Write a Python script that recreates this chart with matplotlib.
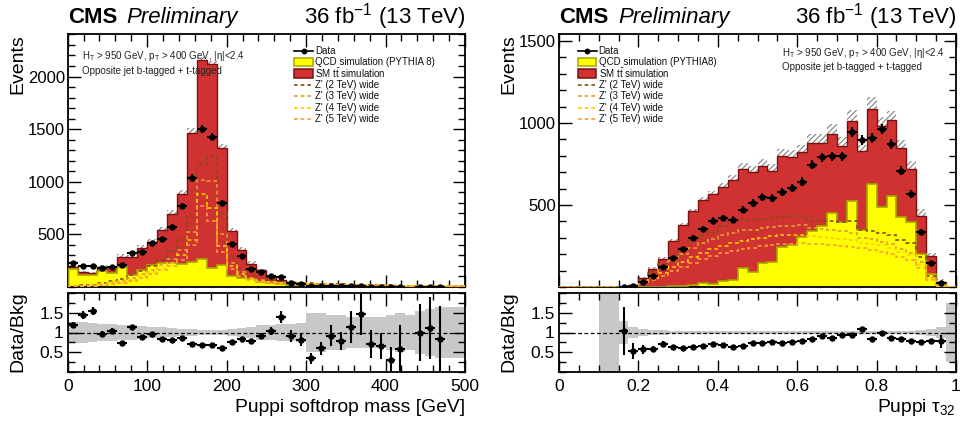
import numpy as np
import matplotlib
matplotlib.use('Agg')
import matplotlib.pyplot as plt
from matplotlib.lines import Line2D
from matplotlib.patches import Rectangle
from matplotlib.ticker import MultipleLocator, FixedLocator

plt.rcParams['font.family'] = ['Liberation Sans', 'DejaVu Sans']
plt.rcParams['mathtext.fontset'] = 'custom'
plt.rcParams['mathtext.rm'] = 'Liberation Sans'
plt.rcParams['mathtext.it'] = 'Liberation Sans:italic'
plt.rcParams['mathtext.bf'] = 'Liberation Sans:bold'
plt.rcParams['hatch.linewidth'] = 0.8

# ---- softdrop mass, 40 bins of 12.5 GeV ----
mass_edges = np.linspace(0, 500, 41)
mass_qcd = [174, 118, 115, 155, 135, 190, 118, 166, 206, 232,
            224, 218, 236, 270, 183, 208, 103, 88, 72, 52,
            34, 25, 20, 18, 12, 14, 9, 10, 5, 4,
            4, 4.5, 2.4, 1.2, 1.5, 1.5, 1.3, 0.9, 1.1, 1.1]
mass_ttbar = [19, 22, 17, 35, 52, 98, 167, 208, 224, 313,
              473, 667, 1229, 1886, 1935, 1117, 430, 261, 150, 106,
              63, 41, 24, 19, 5, 6, 4, 4, 2, 1.5,
              1.6, 1.5, 0.8, 0.5, 0.5, 0.5, 0.5, 0.3, 0.4, 0.4]
mass_data = [228, 203, 203, 184, 193, 209, 323, 335, 418, 458,
             573, 772, 1040, 1500, 1430, 796, 412, 290, 174, 143,
             101, 92, 40, 30, 6, 12, 12, 11, 8, 8,
             4, 4, 1, 1, 0, 2, 2, 1, 0, 0]
mass_zp2 = [12, 15, 20, 40, 60, 80, 110, 150, 200, 260,
            340, 450, 670, 1165, 1245, 705, 290, 170, 110, 80,
            60, 50, 45, 40, 35, 30, 28, 25, 22, 20,
            18, 16, 15, 14, 13, 12, 11, 10, 10, 9]
mass_zp3 = [10, 12, 18, 30, 45, 60, 85, 120, 160, 210,
            270, 350, 520, 1020, 1005, 500, 230, 140, 90, 65,
            50, 42, 38, 34, 30, 27, 25, 22, 20, 18,
            16, 15, 14, 13, 12, 11, 10, 10, 9, 9]
mass_zp4 = [8, 10, 14, 25, 38, 50, 70, 100, 140, 180,
            230, 300, 450, 880, 755, 390, 200, 120, 80, 58,
            45, 38, 34, 30, 27, 25, 22, 20, 18, 16,
            15, 14, 13, 12, 11, 10, 10, 9, 9, 8]
mass_zp5 = [6, 8, 12, 20, 30, 42, 60, 85, 120, 160,
            200, 260, 400, 770, 630, 330, 170, 105, 70, 52,
            40, 34, 30, 27, 25, 22, 20, 18, 16, 15,
            14, 13, 12, 11, 10, 10, 9, 9, 8, 8]
# MC uncertainty (events) shown hatched on the stack
mass_mc_unc = [15, 15, 15, 15, 15, 22, 22, 25, 28, 25,
               35, 40, 47, 30, 30, 38, 30, 30, 25, 15,
               12, 10, 8, 8, 6, 6, 5, 5, 4, 4,
               4, 4, 3, 3, 3, 3, 3, 3, 3, 3]
# relative background uncertainty for the ratio band
mass_band = [0.27, 0.27, 0.25, 0.22, 0.22, 0.2, 0.18, 0.17, 0.15, 0.13,
             0.12, 0.1, 0.08, 0.07, 0.07, 0.07, 0.08, 0.12, 0.15, 0.18,
             0.2, 0.22, 0.22, 0.25, 0.5, 0.5, 0.45, 0.45, 0.4, 0.38,
             0.4, 0.38, 0.45, 0.5, 0.45, 0.55, 0.6, 0.65, 0.65, 0.65]

# ---- tau32, 40 bins of 0.025 ----
tau_edges = np.linspace(0, 1, 41)
tau_qcd = [0, 0, 0, 0, 0, 0, 0, 0, 1, 2,
           3, 4, 5, 10, 27, 20, 37, 40, 118, 92,
           148, 150, 241, 257, 302, 343, 373, 451, 394, 522,
           347, 629, 486, 557, 424, 394, 204, 82, 16, 0]
tau_ttbar = [0, 0, 0, 0, 0.3, 0.6, 2.9, 13, 53, 110,
             170, 274, 373, 451, 504, 547, 575, 613, 602, 608,
             593, 556, 555, 533, 520, 535, 505, 484, 463, 490,
             482, 459, 494, 459, 425, 326, 231, 108, 15, 1]
tau_data = [0, 0, 0, 0, 0, 0, 3, 7, 31, 65,
            124, 175, 230, 298, 353, 404, 420, 410, 471, 512,
            547, 543, 577, 604, 643, 745, 792, 798, 796, 945,
            898, 910, 965, 873, 710, 567, 333, 149, 24, 0]
tau_zp2 = [0, 0, 0, 0, 0, 0, 3, 15, 45, 90,
           140, 190, 240, 290, 320, 330, 370, 400, 410, 410,
           415, 420, 425, 430, 435, 405, 405, 400, 395, 400,
           345, 340, 330, 320, 285, 270, 180, 65, 8, 0]
tau_zp3 = [0, 0, 0, 0, 0, 0, 2, 10, 35, 70,
           110, 160, 200, 240, 270, 290, 320, 330, 345, 350,
           360, 365, 370, 375, 380, 360, 355, 345, 340, 330,
           300, 290, 275, 260, 230, 210, 150, 55, 7, 0]
tau_zp4 = [0, 0, 0, 0, 0, 0, 2, 8, 25, 55,
           85, 120, 150, 180, 210, 230, 250, 270, 280, 295,
           300, 310, 315, 320, 320, 310, 305, 300, 290, 285,
           270, 265, 255, 240, 215, 195, 135, 50, 6, 0]
tau_zp5 = [0, 0, 0, 0, 0, 0, 2, 6, 20, 40,
           65, 95, 120, 145, 170, 190, 205, 220, 230, 240,
           250, 255, 260, 265, 270, 265, 260, 255, 250, 245,
           235, 225, 215, 200, 180, 165, 115, 40, 5, 0]
tau_mc_unc = [0, 0, 0, 0, 0, 0, 2, 4, 6, 8,
              10, 12, 14, 15, 18, 20, 25, 30, 35, 38,
              40, 42, 45, 45, 45, 55, 57, 61, 55, 65,
              35, 70, 55, 60, 50, 50, 40, 20, 15, 0]
tau_band = [0, 0, 0, 0, 1.2, 1.2, 0.3, 0.15, 0.08, 0.07,
            0.06, 0.05, 0.05, 0.05, 0.05, 0.05, 0.05, 0.05, 0.05, 0.05,
            0.05, 0.05, 0.05, 0.05, 0.05, 0.05, 0.05, 0.05, 0.05, 0.05,
            0.05, 0.05, 0.05, 0.05, 0.05, 0.05, 0.06, 0.08, 0.15, 0.75]

QCD_FILL, QCD_LINE = '#ffff00', '#a5a500'
TT_FILL, TT_LINE = '#d03232', '#7a1010'
SIG_COLORS = ['#8b4a12', '#d9a032', '#ffcc00', '#ff9a3c']
SIG_LABELS = ["Z' (2 TeV) wide", "Z' (3 TeV) wide",
              "Z' (4 TeV) wide", "Z' (5 TeV) wide"]
DASH = (0, (2.2, 1.8))

W, H = 960, 425
fig = plt.figure(figsize=(W / 100, H / 100), dpi=100)


def add_axes_px(left, top, right, bottom):
    return fig.add_axes([left / W, 1 - bottom / H, (right - left) / W, (bottom - top) / H])


def fx(x):
    return x / W


def fy(y):
    return 1 - y / H


def style_ticks(ax):
    ax.tick_params(which='both', direction='in', top=True, right=True,
                   labelsize=12, width=1)
    ax.tick_params(which='major', length=9)
    ax.tick_params(which='minor', length=5)
    for s in ax.spines.values():
        s.set_linewidth(1.3)


def draw_legend(x, y, qcd_label):
    # ROOT-like legend, rows every 11.4 px
    labels = ['Data', qcd_label, r'SM t$\bar{\rm t}$ simulation'] + SIG_LABELS
    dy = 11.4
    for i, lab in enumerate(labels):
        yy = y + i * dy
        if i == 0:
            fig.add_artist(Line2D([fx(x), fx(x + 19)], [fy(yy), fy(yy)], color='k',
                                  lw=1.2, transform=fig.transFigure))
            fig.add_artist(Line2D([fx(x + 9.5)], [fy(yy)], color='k', marker='o',
                                  ms=3.2, transform=fig.transFigure))
        elif i in (1, 2):
            fc, ec = (QCD_FILL, QCD_LINE) if i == 1 else (TT_FILL, TT_LINE)
            fig.add_artist(Rectangle((fx(x), fy(yy + 4.2)), 18.5 / W, 8.4 / H,
                                     facecolor=fc, edgecolor=ec, lw=1.1,
                                     transform=fig.transFigure))
        else:
            fig.add_artist(Line2D([fx(x), fx(x + 19)], [fy(yy), fy(yy)],
                                  color=SIG_COLORS[i - 3], lw=1.2, ls=DASH,
                                  transform=fig.transFigure))
        fig.text(fx(x + 21), fy(yy), lab, fontsize=7, va='center', ha='left',
                 color='#111111')


def draw_panel(x0, x1, edges, qcd, ttbar, data, sigs, mc_unc, band,
               ymax, xmajor, xminor, xlabels, xtitle, qcd_label, legend_x,
               note_x, note_y):
    qcd = np.array(qcd, float)
    ttbar = np.array(ttbar, float)
    data = np.array(data, float)
    mc_unc = np.array(mc_unc, float)
    band = np.array(band, float)
    total = qcd + ttbar
    centers = 0.5 * (edges[1:] + edges[:-1])
    width = np.diff(edges)

    ax = add_axes_px(x0, 34, x1, 287)
    rax = add_axes_px(x0, 292.7, x1, 372.3)

    # stack + hatched uncertainty
    ax.bar(centers, 2 * mc_unc, bottom=total - mc_unc, width=width,
           fill=False, hatch='//////', edgecolor='#808080', linewidth=0, zorder=1)
    ax.stairs(total, edges, baseline=qcd, fill=True, color=TT_FILL, zorder=2)
    ax.stairs(qcd, edges, baseline=0, fill=True, color=QCD_FILL, zorder=2)
    ax.stairs(total, edges, color=TT_LINE, lw=1.0, zorder=3)
    ax.stairs(qcd, edges, color=QCD_LINE, lw=1.2, zorder=3)
    for vals, col in zip(sigs, SIG_COLORS):
        ax.stairs(vals, edges, color=col, lw=1.2, ls=DASH, zorder=4)
    m = data > 0
    ax.errorbar(centers[m], data[m], xerr=width[m] / 2, yerr=np.sqrt(data[m]),
                fmt='o', ms=3.6, color='k', elinewidth=1.5, capsize=0, zorder=5)

    ax.set_xlim(edges[0], edges[-1])
    ax.set_ylim(0, ymax)
    ax.yaxis.set_major_locator(FixedLocator([500, 1000, 1500, 2000]))
    ax.yaxis.set_minor_locator(MultipleLocator(100))
    ax.xaxis.set_major_locator(MultipleLocator(xmajor))
    ax.xaxis.set_minor_locator(MultipleLocator(xminor))
    style_ticks(ax)
    ax.tick_params(labelbottom=False, pad=2)

    draw_legend(legend_x, 50.6, qcd_label)
    fig.text(fx(note_x), fy(note_y), r'H$_{\rm T}$ > 950 GeV, p$_{\rm T}$ > 400 GeV, |η|<2.4',
             fontsize=7, color='#222222', va='center')
    fig.text(fx(note_x), fy(note_y + 14.5), 'Opposite jet b-tagged + t-tagged',
             fontsize=7, color='#222222', va='center')

    # ratio pad
    safe = np.where(total > 0, total, 1.0)
    rax.stairs(1 + band, edges, baseline=1 - band, fill=True, color='#c8c8c8', zorder=1)
    rax.axhline(1, color='k', lw=0.9, ls=(0, (3, 2)), zorder=2)
    m = (data > 0) & (total > 0)
    rax.errorbar(centers[m], data[m] / safe[m], xerr=width[m] / 2,
                 yerr=np.sqrt(data[m]) / safe[m], fmt='o', ms=3.6, color='k',
                 elinewidth=1.5, capsize=0, zorder=3)
    rax.set_xlim(edges[0], edges[-1])
    rax.set_ylim(0, 2)
    rax.set_yticks([0.5, 1, 1.5])
    rax.set_yticklabels(['0.5', '1', '1.5'])
    rax.yaxis.set_minor_locator(MultipleLocator(0.25))
    rax.set_xticks(np.arange(edges[0], edges[-1] + xmajor / 2, xmajor))
    rax.set_xticklabels(xlabels)
    rax.xaxis.set_minor_locator(MultipleLocator(xminor))
    style_ticks(rax)
    rax.tick_params(axis='x', pad=5, labelsize=12.5)
    rax.tick_params(axis='y', pad=3, labelsize=12.5)

    fig.text(fx(x0 - 50), fy(34), 'Events', rotation=90, ha='center',
             va='top', fontsize=14)
    fig.text(fx(x0 - 50), fy(332), 'Data/Bkg', rotation=90, ha='center',
             va='center', fontsize=14)
    fig.text(fx(x1), fy(408), xtitle, ha='right', va='center', fontsize=13.9)

    fig.text(fx(x0), fy(23), 'CMS', fontsize=16, fontweight='bold', va='baseline')
    fig.text(fx(x0 + 59), fy(23), 'Preliminary', fontsize=16, style='italic',
             va='baseline')
    fig.text(fx(x1), fy(23), r'36 fb$^{-1}$ (13 TeV)', fontsize=16,
             ha='right', va='baseline')


draw_panel(67.7, 465, mass_edges, mass_qcd, mass_ttbar, mass_data,
           [mass_zp2, mass_zp3, mass_zp4, mass_zp5], mass_mc_unc, mass_band,
           2404, 100, 20, ['0', '100', '200', '300', '400', '500'],
           'Puppi softdrop mass [GeV]', 'QCD simulation (PYTHIA 8)', 294,
           82, 56)

draw_panel(559, 956, tau_edges, tau_qcd, tau_ttbar, tau_data,
           [tau_zp2, tau_zp3, tau_zp4, tau_zp5], tau_mc_unc, tau_band,
           1543, 0.2, 0.05, ['0', '0.2', '0.4', '0.6', '0.8', '1'],
           'Puppi τ$_{32}$', 'QCD simulation (PYTHIA8)', 577.7,
           782, 53)

fig.savefig('out.png', dpi=100)
